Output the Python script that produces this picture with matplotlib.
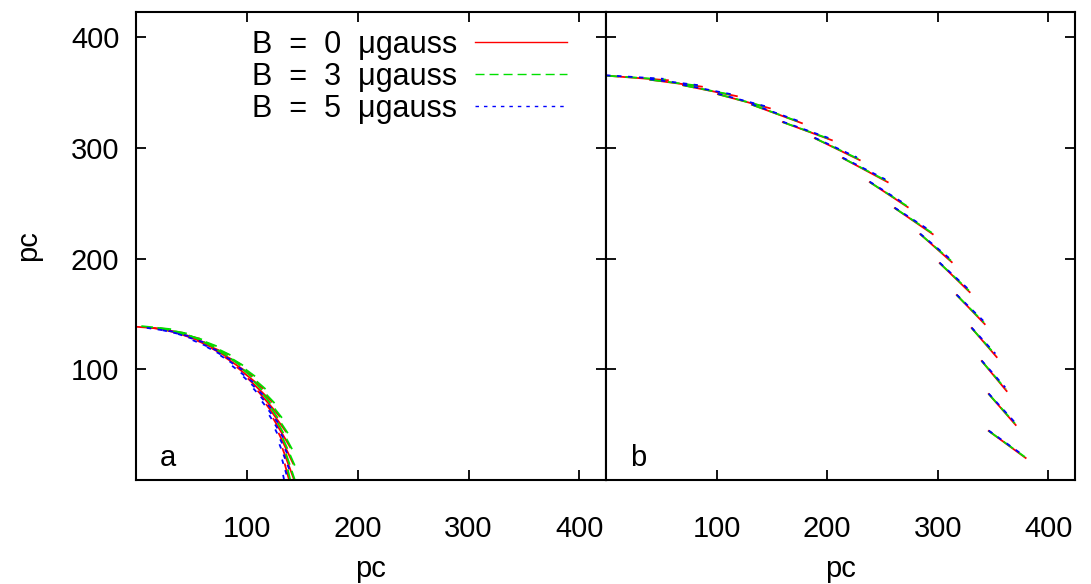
import matplotlib
matplotlib.use("Agg")
import matplotlib.pyplot as plt
from matplotlib.lines import Line2D

plt.rcParams['font.family'] = ['Liberation Sans', 'DejaVu Sans']

# short field segments, one tuple per segment: (x0, y0, x1, y1) in pc
# panel a
a_red = [
    (0.0, 138.5, 29.0, 136.4), (14.4, 137.5, 43.2, 132.9), (28.7, 135.0, 56.9, 127.9),
    (42.6, 131.0, 70.1, 121.5), (55.9, 125.6, 82.6, 113.7), (68.6, 118.9, 94.2, 104.6),
    (80.5, 110.8, 104.8, 94.3), (91.5, 101.6, 114.3, 83.0), (101.4, 91.3, 122.5, 70.8),
    (110.2, 80.1, 129.5, 57.6), (117.8, 68.0, 135.1, 43.9), (124.0, 55.2, 139.1, 29.6),
    (128.9, 41.9, 141.7, 14.9), (132.3, 28.1, 142.7, 0.0), (134.3, 14.1, 142.2, -14.9),
]
a_green = [
    (4.8, 139.1, 33.9, 136.1), (19.3, 137.6, 48.0, 132.0), (33.6, 134.6, 61.7, 126.4),
    (47.6, 130.7, 75.0, 120.1), (60.9, 124.8, 87.4, 111.8), (73.4, 117.6, 98.8, 102.2),
    (85.6, 109.7, 109.7, 92.0), (96.5, 100.0, 119.0, 80.3), (106.3, 89.1, 126.9, 67.5),
    (114.8, 77.4, 133.5, 53.9), (122.0, 64.9, 138.7, 39.7), (127.9, 51.7, 142.3, 25.1),
    (132.4, 37.9, 144.5, 10.1), (135.3, 23.9, 145.0, -5.1), (136.9, 9.6, 143.9, -20.2),
]
a_blue = [
    (9.7, 137.5, 38.2, 133.4), (23.9, 135.4, 52.0, 129.0), (37.8, 132.0, 65.4, 123.0),
    (51.1, 126.4, 77.6, 115.1), (64.0, 120.2, 89.4, 106.5), (76.0, 112.7, 100.2, 96.8),
    (86.7, 103.2, 109.3, 85.4), (96.8, 93.5, 117.9, 73.7), (105.9, 82.7, 125.2, 61.0),
    (113.7, 71.0, 131.1, 47.7), (120.2, 58.6, 135.6, 33.8), (125.6, 45.7, 138.6, 19.5),
    (129.4, 32.3, 140.1, 4.9), (131.8, 18.5, 140.1, -9.8), (132.7, 4.6, 138.5, -24.4),
]

# panel b
b_red = [
    (1.0, 365.4, 56.0, 361.3), (39.7, 361.8, 86.7, 355.5), (69.6, 356.8, 118.3, 346.9),
    (101.2, 348.7, 148.1, 336.0), (131.9, 339.2, 177.1, 322.5), (159.9, 323.4, 204.2, 307.1),
    (188.8, 308.9, 229.4, 289.1), (214.1, 290.9, 254.7, 269.2), (238.5, 269.2, 272.8, 246.6),
    (261.1, 245.7, 295.4, 222.2), (284.1, 222.2, 312.6, 196.9), (301.7, 196.0, 328.8, 169.8),
    (317.1, 167.1, 342.4, 140.9), (330.6, 137.3, 353.2, 111.1), (339.7, 107.5, 362.2, 80.4),
    (346.0, 77.7, 370.4, 49.7), (346.0, 44.3, 379.4, 19.9),
]
b_green = [
    (1.0, 365.4, 54.0, 361.9), (39.7, 361.8, 84.7, 356.2), (69.6, 356.8, 116.3, 347.6),
    (101.2, 348.7, 146.1, 336.8), (131.9, 339.2, 175.2, 323.5), (159.9, 323.4, 202.5, 308.1),
    (188.8, 308.9, 228.0, 290.3), (214.1, 290.9, 253.5, 270.5), (238.5, 269.2, 271.8, 247.8),
    (261.1, 245.7, 294.5, 223.5), (284.1, 222.2, 311.8, 198.3), (301.7, 196.0, 328.0, 171.3),
    (317.1, 167.1, 341.6, 142.4), (330.6, 137.3, 352.5, 112.6), (339.7, 107.5, 361.5, 82.0),
    (346.0, 77.7, 369.6, 51.2), (346.0, 44.3, 378.6, 20.9),
]
b_blue = [
    (0.0, 365.8, 52.0, 362.6), (39.7, 362.2, 83.0, 356.9), (69.6, 357.2, 114.6, 348.4),
    (101.2, 349.1, 144.5, 337.7), (131.9, 339.6, 173.6, 324.6), (159.9, 323.8, 201.0, 309.2),
    (188.8, 309.3, 226.8, 291.6), (214.1, 291.3, 252.4, 271.8), (238.5, 269.6, 270.9, 249.1),
    (261.1, 246.1, 293.7, 224.9), (284.1, 222.6, 311.1, 199.8), (301.7, 196.4, 327.3, 172.8),
    (317.1, 167.5, 341.0, 144.0), (330.6, 137.7, 352.0, 114.2), (339.7, 107.9, 361.0, 83.6),
    (346.0, 78.1, 369.0, 52.8), (346.0, 44.7, 378.0, 21.8),
]

labels = ['B  =  0  \u03bcgauss', 'B  =  3  \u03bcgauss', 'B  =  5  \u03bcgauss']
ticks = [100, 200, 300, 400]

colors = ['#ff0000', '#00e000', '#0000ff']
styles = ['-', (0, (6.5, 3.6)), (0, (2.5, 3.6))]
fs = 21

fig = plt.figure(figsize=(10.91, 5.84), dpi=100)
axA = fig.add_axes([136/1091, 104/584, 470/1091, 468/584])
axB = fig.add_axes([606/1091, 104/584, 469/1091, 468/584])

def draw_segments(ax, segs, color, ls):
    for x0, y0, x1, y1 in segs:
        ax.plot([x0, x1], [y0, y1], color=color, linestyle=ls, linewidth=1.3)

for ax, sets, name in [(axA, [a_red, a_green, a_blue], 'a'),
                       (axB, [b_red, b_green, b_blue], 'b')]:
    for segs, c, ls in zip(sets, colors, styles):
        draw_segments(ax, segs, c, ls)
    ax.set_xlim(0, 424)
    ax.set_ylim(0, 423)
    ax.set_xticks(ticks)
    ax.set_yticks(ticks)
    ax.tick_params(direction='in', length=7, width=1.3, top=True, right=True,
                   labelsize=fs)
    ax.tick_params(axis='x', pad=25)
    ax.tick_params(axis='y', pad=12)
    for sp in ax.spines.values():
        sp.set_linewidth(1.5)
    ax.set_xlabel('pc', fontsize=fs)
    ax.xaxis.set_label_coords(0.5, -0.16)
    ax.text(0.068, 0.047, name, transform=ax.transAxes, fontsize=fs,
            ha='center', va='center')

axB.tick_params(axis='y', labelleft=False)
axA.set_ylabel('pc', fontsize=fs)
axA.yaxis.set_label_coords(-0.2, 0.5)

handles = [Line2D([], [], color=c, linestyle=ls, linewidth=1.0)
           for c, ls in zip(colors, styles)]
axA.legend(handles, labels, loc='upper right', bbox_to_anchor=(0.917, 0.962),
           frameon=False, markerfirst=False, fontsize=22, handlelength=3.0,
           handletextpad=0.6, labelspacing=0.07, borderpad=0, borderaxespad=0)

fig.savefig('out.png', dpi=100)
